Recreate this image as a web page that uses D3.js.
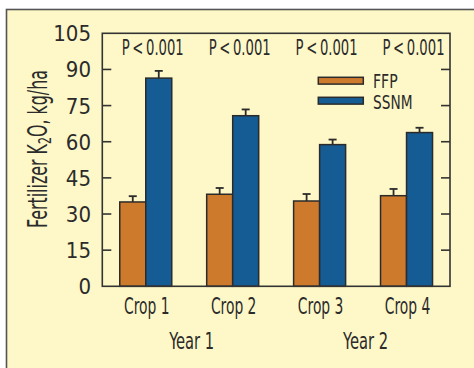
<!DOCTYPE html>
<html><head><meta charset="utf-8">
<script src="https://cdn.jsdelivr.net/npm/d3@7"></script>
<style>
html,body{margin:0;padding:0;background:#fff;}
svg{display:block;}
text{font-family:"Liberation Sans Narrow","DejaVu Sans Condensed","Liberation Sans",Arial,sans-serif;fill:#2b2b2b;}
</style></head>
<body>
<svg id="chart" width="474" height="368"></svg>
<script>
const crops = ["Crop 1","Crop 2","Crop 3","Crop 4"];
const series = ["FFP","SSNM"];
const ffp = [35, 38.2, 35.4, 37.6];
const ssnm = [86.4, 70.8, 58.8, 63.8];
const ffpErr = [2.4, 2.6, 2.9, 2.8];
const ssnmErr = [3.0, 2.6, 2.1, 2.0];
const pLabels = ["P\u2009<\u20090.001","P\u2009<\u20090.001","P\u2009<\u20090.001","P\u2009<\u20090.001"];
const years = [{label:"Year 1", crops:["Crop 1","Crop 2"]},{label:"Year 2", crops:["Crop 3","Crop 4"]}];
const yTicks = [0,15,30,45,60,75,90,105];
const colors = {FFP:"#CE7A2D", SSNM:"#145C93"};

const svg = d3.select("#chart");
const L=102.3, R=450, T=33.3, B=286.3;

// panel
svg.append("rect").attr("x",6.5).attr("y",9.5).attr("width",480).attr("height",380)
  .attr("fill","#FEF8C8").attr("stroke","#555").attr("stroke-width",1.6);

const x = d3.scaleBand().domain(crops).range([L,R]).padding(0);
const y = d3.scaleLinear().domain([0,105]).range([B,T]);

// bars
const barW = 26;
const data = [];
crops.forEach((c,i)=>{
  data.push({crop:c, s:"FFP", v:ffp[i], e:ffpErr[i]});
  data.push({crop:c, s:"SSNM", v:ssnm[i], e:ssnmErr[i]});
});
const bx = d => x(d.crop) + x.bandwidth()/2 + (d.s==="FFP" ? -barW : 0);

const g = svg.append("g");
g.selectAll("line.err").data(data).join("line").attr("class","err")
  .attr("x1",d=>bx(d)+barW/2).attr("x2",d=>bx(d)+barW/2)
  .attr("y1",d=>y(d.v)).attr("y2",d=>y(d.v+d.e))
  .attr("stroke","#2b2b2b").attr("stroke-width",1.8);
g.selectAll("line.cap").data(data).join("line").attr("class","cap")
  .attr("x1",d=>bx(d)+barW/2-4).attr("x2",d=>bx(d)+barW/2+4)
  .attr("y1",d=>y(d.v+d.e)).attr("y2",d=>y(d.v+d.e))
  .attr("stroke","#2b2b2b").attr("stroke-width",1.8);
g.selectAll("rect.bar").data(data).join("rect").attr("class","bar")
  .attr("x",d=>bx(d)).attr("width",barW)
  .attr("y",d=>y(d.v)).attr("height",d=>y(0)-y(d.v))
  .attr("fill",d=>colors[d.s]).attr("stroke","#2b2b2b").attr("stroke-width",1.5);

// frame
svg.append("rect").attr("x",L).attr("y",T).attr("width",R-L).attr("height",B-T)
  .attr("fill","none").attr("stroke","#333").attr("stroke-width",1.6);

// ticks (inward)
const inner = yTicks.filter(t=>t>0 && t<105);
svg.selectAll("line.tl").data(inner).join("line")
  .attr("x1",L).attr("x2",L+9).attr("y1",d=>y(d)).attr("y2",d=>y(d))
  .attr("stroke","#333").attr("stroke-width",1.6);
svg.selectAll("line.tr").data(inner).join("line")
  .attr("x1",R-9).attr("x2",R).attr("y1",d=>y(d)).attr("y2",d=>y(d))
  .attr("stroke","#333").attr("stroke-width",1.6);
svg.selectAll("text.yt").data(yTicks).join("text").attr("class","yt")
  .attr("x",91).attr("y",d=>y(d)).attr("dy","0.36em")
  .attr("text-anchor","end").attr("font-size",22).text(d=>d);

// y label
const yl = svg.append("text").attr("transform","translate(46.7,149) rotate(-90)")
  .attr("text-anchor","middle").attr("font-size",26)
  .attr("textLength",158).attr("lengthAdjust","spacingAndGlyphs");
yl.append("tspan").text("Fertilizer K");
yl.append("tspan").attr("font-size",18).attr("dy",4).text("2");
yl.append("tspan").attr("dy",-4).text("O, kg/ha");

// P labels
svg.selectAll("text.p").data(crops).join("text").attr("class","p")
  .attr("x",(d)=>x(d)+x.bandwidth()/2+7).attr("y",55.3)
  .attr("text-anchor","middle").attr("font-size",21)
  .attr("textLength",62).attr("lengthAdjust","spacingAndGlyphs")
  .text((d,i)=>pLabels[i]);

// crop labels
svg.selectAll("text.c").data(crops).join("text").attr("class","c")
  .attr("x",d=>x(d)+x.bandwidth()/2+1).attr("y",314.3)
  .attr("text-anchor","middle").attr("font-size",23)
  .attr("textLength",45.5).attr("lengthAdjust","spacingAndGlyphs").text(d=>d);
svg.selectAll("text.yr").data(years).join("text").attr("class","yr")
  .attr("x",d=>(x(d.crops[0])+x(d.crops[1])+x.bandwidth())/2+2.5).attr("y",348.5)
  .attr("text-anchor","middle").attr("font-size",23.5)
  .attr("textLength",45).attr("lengthAdjust","spacingAndGlyphs").text(d=>d.label);

// legend
const leg = svg.append("g");
const legW = {FFP:24.6, SSNM:39.6};
series.forEach((s,i)=>{
  const yy = 77.3 + i*20;
  leg.append("rect").attr("x",318.3).attr("y",yy).attr("width",45).attr("height",6.8)
    .attr("fill",colors[s]).attr("stroke","#2b2b2b").attr("stroke-width",1.5);
  leg.append("text").attr("x",373).attr("y",87.5+i*21.5).attr("font-size",19)
    .attr("textLength",legW[s]).attr("lengthAdjust","spacingAndGlyphs").text(s);
});
</script>
</body></html>
